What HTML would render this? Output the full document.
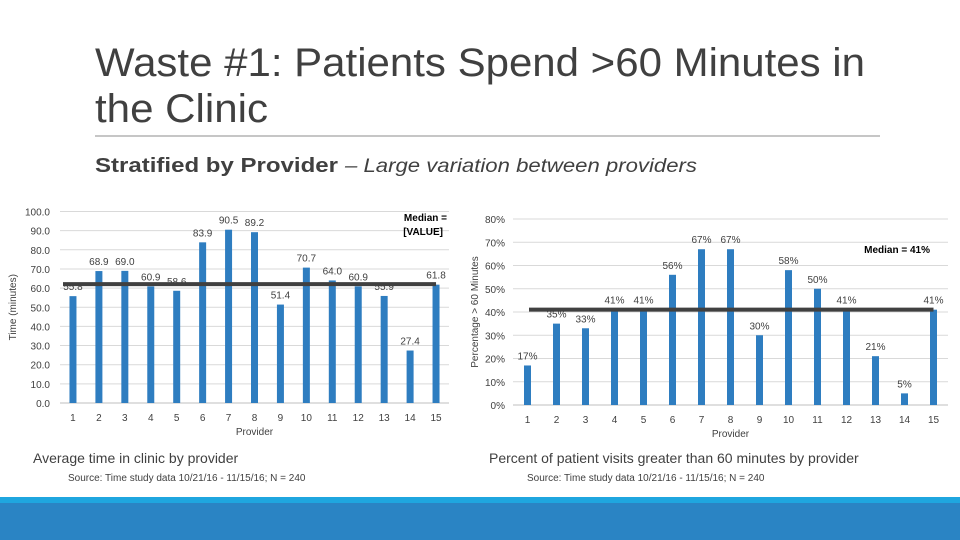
<!DOCTYPE html>
<html><head><meta charset="utf-8">
<style>
body{margin:0;background:#fff;}
svg{display:block;font-family:"Liberation Sans",sans-serif;}
</style></head>
<body>
<svg id="s" width="960" height="540" viewBox="0 0 960 540">
<text x="95" y="76" font-size="40" fill="#404040" textLength="770" lengthAdjust="spacingAndGlyphs">Waste #1: Patients Spend &gt;60 Minutes in</text>
<text x="95" y="122" font-size="40" fill="#404040" textLength="173" lengthAdjust="spacingAndGlyphs">the Clinic</text>
<line x1="95" y1="136" x2="880" y2="136" stroke="#8c8c8c" stroke-width="1"/>
<text x="95" y="172" font-size="20" fill="#404040" font-weight="bold" textLength="243" lengthAdjust="spacingAndGlyphs">Stratified by Provider</text>
<text x="345" y="172" font-size="19" fill="#404040" font-style="italic" textLength="352" lengthAdjust="spacingAndGlyphs">– Large variation between providers</text>
<g id="left"></g>
<g id="right"></g>
<text x="33" y="463" font-size="14" fill="#404040">Average time in clinic by provider</text>
<text x="68" y="481" font-size="10" fill="#404040">Source: Time study data 10/21/16 - 11/15/16; N = 240</text>
<text x="489" y="463" font-size="14" fill="#404040">Percent of patient visits greater than 60 minutes by provider</text>
<text x="527" y="481" font-size="10" fill="#404040">Source: Time study data 10/21/16 - 11/15/16; N = 240</text>
<rect x="0" y="497" width="960" height="6" fill="#1fa6df"/>
<rect x="0" y="503" width="960" height="37" fill="#2a84c4"/>
</svg>
<script>
const categories=["1","2","3","4","5","6","7","8","9","10","11","12","13","14","15"];
const timeValues=[55.8,68.9,69.0,60.9,58.6,83.9,90.5,89.2,51.4,70.7,64.0,60.9,55.9,27.4,61.8];
const timeMedian=62.1;
const timeTicks=[0,10,20,30,40,50,60,70,80,90,100];
const pctValues=[17,35,33,41,41,56,67,67,30,58,50,41,21,5,41];
const pctMedian=41;
const pctTicks=[0,10,20,30,40,50,60,70,80];
const NS="http://www.w3.org/2000/svg";
function mk(p,t,a,txt){const e=document.createElementNS(NS,t);for(const k in a)e.setAttribute(k,a[k]);if(txt!==undefined)e.textContent=txt;p.appendChild(e);return e;}
function chart(g,o){
  const y=v=>o.y0-(v-o.vmin)/(o.vmax-o.vmin)*(o.y0-o.y1);
  const step=(o.xr-o.xl)/categories.length;
  const x=i=>o.xl+step*(i+0.5);
  o.ticks.forEach(t=>{
    const gl=mk(g,'line',{x1:o.xl,x2:o.xr,y1:y(t),y2:y(t),stroke:t===o.vmin?'#bfbfbf':'#d9d9d9','stroke-width':1});
    
    
    const tl=mk(g,'text',{x:o.tickX,y:y(t)+4,'font-size':10,fill:'#404040','text-anchor':'end'},o.fmt(t));
    
    
  });
  categories.forEach((c,i)=>{
    const v=o.vals[i];
    const b=mk(g,'rect',{x:x(i)-3.5,y:y(v),width:7,height:y(o.vmin)-y(v),fill:'#2e7dc0'});
    
    
    const xl=mk(g,'text',{x:x(i),y:o.y0+18,'font-size':10,fill:'#404040','text-anchor':'middle'},c);
    
    
  });
  const m=mk(g,'line',{x1:o.mx1,x2:x(categories.length-1),y1:y(o.median),y2:y(o.median),stroke:'#404040','stroke-width':4});
  
  
  categories.forEach((c,i)=>{
    const v=o.vals[i];
    const lb=mk(g,'text',{x:x(i),y:y(v)-6,'font-size':10,fill:'#404040','text-anchor':'middle'},o.lab(v));
    
    
  });
  const xt=mk(g,'text',{x:(o.xl+o.xr)/2,y:o.y0+32,'font-size':10,fill:'#404040','text-anchor':'middle'},'Provider');
  
  
  const yt=mk(g,'text',{x:0,y:0,'font-size':10,fill:'#404040','text-anchor':'middle',transform:`translate(${o.ytx},${(o.y0+o.y1)/2}) rotate(-90)`},o.ytitle);
  
  
}
const L=document.getElementById('left'),R=document.getElementById('right');
chart(L,{vals:timeValues,median:timeMedian,ticks:timeTicks,vmin:0,vmax:100,y0:403,y1:211.5,xl:60,xr:449,tickX:50,fmt:t=>t.toFixed(1),lab:v=>v.toFixed(1),mx1:63,ytx:16,ytitle:'Time (minutes)'});
chart(R,{vals:pctValues,median:pctMedian,ticks:pctTicks,vmin:0,vmax:80,y0:405,y1:219,xl:513,xr:948,tickX:505,fmt:t=>t+'%',lab:v=>v+'%',mx1:529,ytx:478,ytitle:'Percentage > 60 Minutes'});
const a=mk(L,'text',{x:447,y:221,'font-size':10,'font-weight':'bold',fill:'#000','text-anchor':'end'},'Median =');


const a2=mk(L,'text',{x:443,y:235,'font-size':10,'font-weight':'bold',fill:'#000','text-anchor':'end'},'[VALUE]');


const b=mk(R,'text',{x:930,y:253,'font-size':10,'font-weight':'bold',fill:'#000','text-anchor':'end'},'Median = 41%');


</script>
</body></html>
